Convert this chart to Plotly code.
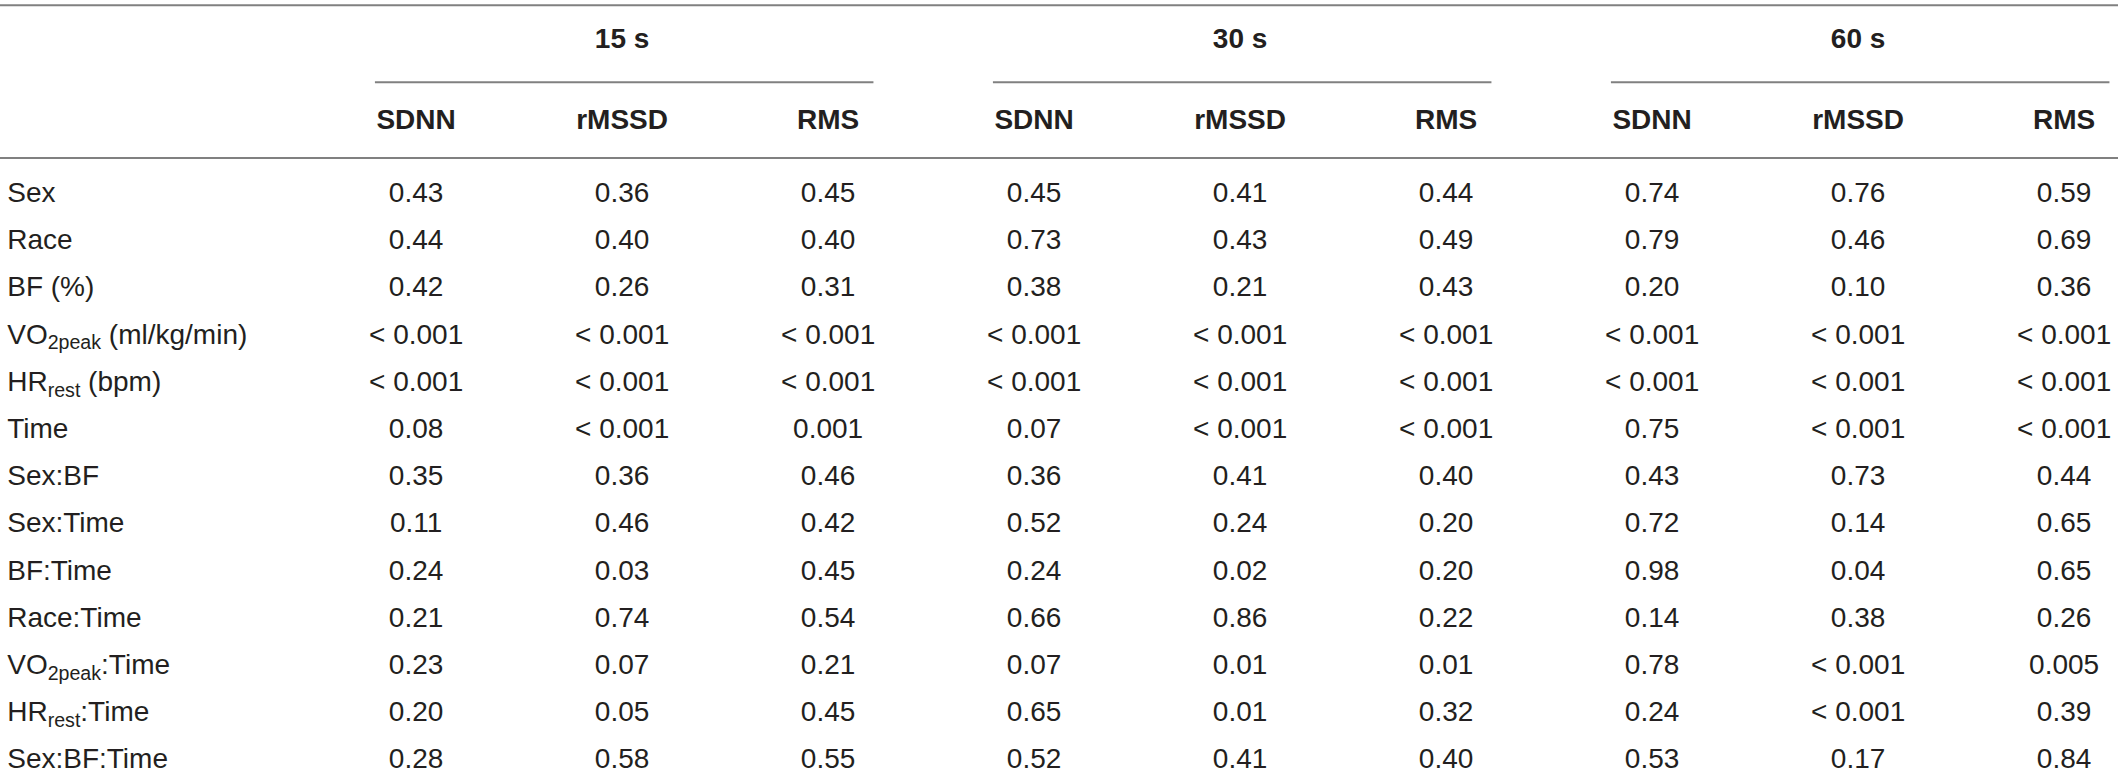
import plotly.graph_objects as go

# p-values table, three window lengths x three HRV metrics
windows = ['15 s', '30 s', '60 s']
metrics = ['SDNN', 'rMSSD', 'RMS']

terms = ['Sex', 'Race', 'BF (%)', 'VO<sub>2peak</sub> (ml/kg/min)', 'HR<sub>rest</sub> (bpm)',
         'Time', 'Sex:BF', 'Sex:Time', 'BF:Time', 'Race:Time',
         'VO<sub>2peak</sub>:Time', 'HR<sub>rest</sub>:Time', 'Sex:BF:Time']

p15_sdnn = ['0.43', '0.44', '0.42', '< 0.001', '< 0.001', '0.08', '0.35', '0.11', '0.24', '0.21', '0.23', '0.20', '0.28']
p15_rmssd = ['0.36', '0.40', '0.26', '< 0.001', '< 0.001', '< 0.001', '0.36', '0.46', '0.03', '0.74', '0.07', '0.05', '0.58']
p15_rms = ['0.45', '0.40', '0.31', '< 0.001', '< 0.001', '0.001', '0.46', '0.42', '0.45', '0.54', '0.21', '0.45', '0.55']

p30_sdnn = ['0.45', '0.73', '0.38', '< 0.001', '< 0.001', '0.07', '0.36', '0.52', '0.24', '0.66', '0.07', '0.65', '0.52']
p30_rmssd = ['0.41', '0.43', '0.21', '< 0.001', '< 0.001', '< 0.001', '0.41', '0.24', '0.02', '0.86', '0.01', '0.01', '0.41']
p30_rms = ['0.44', '0.49', '0.43', '< 0.001', '< 0.001', '< 0.001', '0.40', '0.20', '0.20', '0.22', '0.01', '0.32', '0.40']

p60_sdnn = ['0.74', '0.79', '0.20', '< 0.001', '< 0.001', '0.75', '0.43', '0.72', '0.98', '0.14', '0.78', '0.24', '0.53']
p60_rmssd = ['0.76', '0.46', '0.10', '< 0.001', '< 0.001', '< 0.001', '0.73', '0.14', '0.04', '0.38', '< 0.001', '< 0.001', '0.17']
p60_rms = ['0.59', '0.69', '0.36', '< 0.001', '< 0.001', '< 0.001', '0.44', '0.65', '0.65', '0.26', '0.005', '0.39', '0.84']

columns = [p15_sdnn, p15_rmssd, p15_rms, p30_sdnn, p30_rmssd, p30_rms, p60_sdnn, p60_rmssd, p60_rms]

W, H = 2118, 778
TXT = '#231f20'
LINE = '#808080'
FONT = 'Liberation Sans'

# layout of the grid in axis units: one unit = one column / one row
x0 = -2.02
x1 = x0 + W / 206.0
y_top = -4.13
y_bot = y_top + H / 47.2
y_group = -3.26
y_metric = -1.55

fig = go.Figure()

for ci, col in enumerate(columns):
    fig.add_trace(go.Scatter(
        x=[ci] * len(col), y=list(range(len(col))), text=col,
        mode='text', textposition='middle center',
        textfont=dict(family=FONT, size=28, color=TXT),
        hoverinfo='skip', showlegend=False))

# row labels
fig.add_trace(go.Scatter(
    x=[x0 + 0.035] * len(terms), y=list(range(len(terms))), text=terms,
    mode='text', textposition='middle right',
    textfont=dict(family=FONT, size=28, color=TXT),
    hoverinfo='skip', showlegend=False))

# metric headers
fig.add_trace(go.Scatter(
    x=list(range(9)), y=[y_metric] * 9, text=metrics * 3,
    mode='text', textposition='middle center',
    textfont=dict(family=FONT, size=28, color=TXT, weight='bold'),
    hoverinfo='skip', showlegend=False))

# window headers over the middle column of each group
fig.add_trace(go.Scatter(
    x=[1, 4, 7], y=[y_group] * 3, text=windows,
    mode='text', textposition='middle center',
    textfont=dict(family=FONT, size=28, color=TXT, weight='bold'),
    hoverinfo='skip', showlegend=False))

shapes = []
for yy in [-4.02, -0.78]:
    shapes.append(dict(type='line', xref='paper', yref='y', x0=0, x1=1, y0=yy, y1=yy,
                       line=dict(color=LINE, width=2)))
for g in range(3):
    shapes.append(dict(type='line', xref='x', yref='y', x0=3 * g - 0.2, x1=3 * g + 2.22,
                       y0=-2.39, y1=-2.39, line=dict(color=LINE, width=2)))

fig.update_layout(
    width=W, height=H,
    margin=dict(l=0, r=0, t=0, b=0),
    paper_bgcolor='white', plot_bgcolor='white',
    xaxis=dict(range=[x0, x1], visible=False, fixedrange=True),
    yaxis=dict(range=[y_bot, y_top], visible=False, fixedrange=True),
    shapes=shapes,
)

fig.write_html("out.html", config={'displayModeBar': False},
               post_script="document.body.style.margin='0';document.body.style.overflow='hidden';")
